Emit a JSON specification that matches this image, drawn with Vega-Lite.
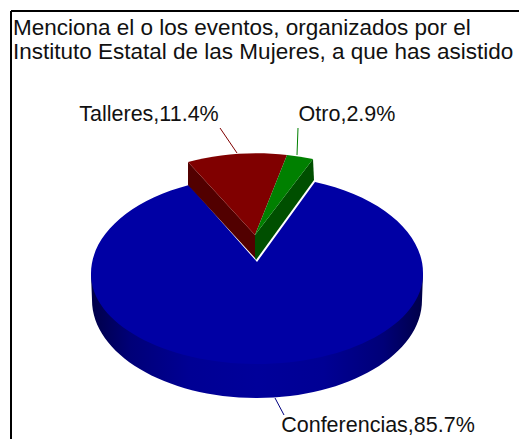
{
"$schema":"https://vega.github.io/schema/vega-lite/v6.json",
"width":508,"height":428,
"padding":{"left":11,"top":11,"right":0,"bottom":1},
"autosize":{"type":"none"},
"background":"white",
"view":{"stroke":null},
"title":{"text":["Menciona el o los eventos, organizados por el","Instituto Estatal de las Mujeres, a que has asistido"],"anchor":"start","frame":"group","orient":"top","offset":0,"dx":2,"dy":53,"font":"Liberation Sans","fontSize":22.5,"fontWeight":"normal","lineHeight":24,"color":"#111111"},
"data":{"values":[
{"category":"Conferencias","share":85.7},
{"category":"Talleres","share":11.4},
{"category":"Otro","share":2.9}]},
"layer":[
{"transform":[{"filter":"datum.category==='Conferencias'"}],
"mark":{"type":"point","filled":true,"opacity":1,"size":4,"shape":"M-174,49 L-173,75 A165 98 0 0 0 157,75 L158,49 Z","fill":{"x1":0,"x2":1,"y1":0,"y2":0,"gradient":"linear","stops":[{"offset":0,"color":"#000048"},{"offset":0.12,"color":"#000078"},{"offset":0.3,"color":"#000094"},{"offset":0.5,"color":"#00009a"},{"offset":0.7,"color":"#000094"},{"offset":0.88,"color":"#000078"},{"offset":1,"color":"#000048"}]}}},
{"mark":{"type":"point","filled":true,"opacity":1,"size":4},
"encoding":{
"shape":{"field":"category","type":"nominal","legend":null,"scale":{"domain":["Conferencias","Talleres","Otro"],"range":["M-8,37 L50,-43 A166 97 0 0 1 158,49 A166 90 0 0 1 -174,49 A166 97 0 0 1 -76,-40 Z","M-77,-63 L-10,10 L-10,33 L-77,-40 Z","M-10,10 L48,-66 L49,-45 L-9,35 L-10,33 Z"]}},
"fill":{"field":"category","type":"nominal","legend":null,"scale":{"domain":["Conferencias","Talleres","Otro"],"range":["#0000a4","#520000","#004f00"]}}}},
{"transform":[{"filter":"datum.category!=='Conferencias'"}],
"mark":{"type":"point","filled":true,"opacity":1,"size":4},
"encoding":{
"shape":{"field":"category","type":"nominal","legend":null,"scale":{"domain":["Talleres","Otro"],"range":["M-10,10 L-77,-63 A166 97 0 0 1 22,-70 Z","M-10,10 L22,-70 A166 97 0 0 1 48,-66 Z"]}},
"fill":{"field":"category","type":"nominal","legend":null,"scale":{"domain":["Talleres","Otro"],"range":["#800000","#008000"]}}}},
{"mark":{"type":"point","filled":false,"opacity":1,"size":4,"strokeWidth":1},
"encoding":{
"shape":{"field":"category","type":"nominal","legend":null,"scale":{"domain":["Conferencias","Talleres","Otro"],"range":["M10,173 L19,190","M-45,-97 L-28,-72","M33,-97 L32,-70"]}},
"stroke":{"field":"category","type":"nominal","legend":null,"scale":{"domain":["Conferencias","Talleres","Otro"],"range":["#000080","#800000","#008000"]}}}},
{"mark":{"type":"text","font":"Liberation Sans","fontSize":21.5,"align":"center","baseline":"middle","color":"#111111"},
"transform":[{"calculate":"datum.category+','+format(datum.share,'.1f')+'%'","as":"label"}],
"encoding":{
"text":{"field":"label","type":"nominal"},
"x":{"field":"share","type":"quantitative","axis":null,"scale":{"domain":[2.9,11.4,85.7],"range":[336,138,367]}},
"y":{"field":"share","type":"quantitative","axis":null,"scale":{"domain":[2.9,11.4,85.7],"range":[104,104,415]}}}},
{"mark":{"type":"rule","color":"#000000","strokeWidth":2},"encoding":{"x":{"value":0}}},
{"mark":{"type":"rule","color":"#000000","strokeWidth":2},"encoding":{"y":{"value":0}}}
],
"resolve":{"scale":{"shape":"independent","fill":"independent","stroke":"independent"}}
}
